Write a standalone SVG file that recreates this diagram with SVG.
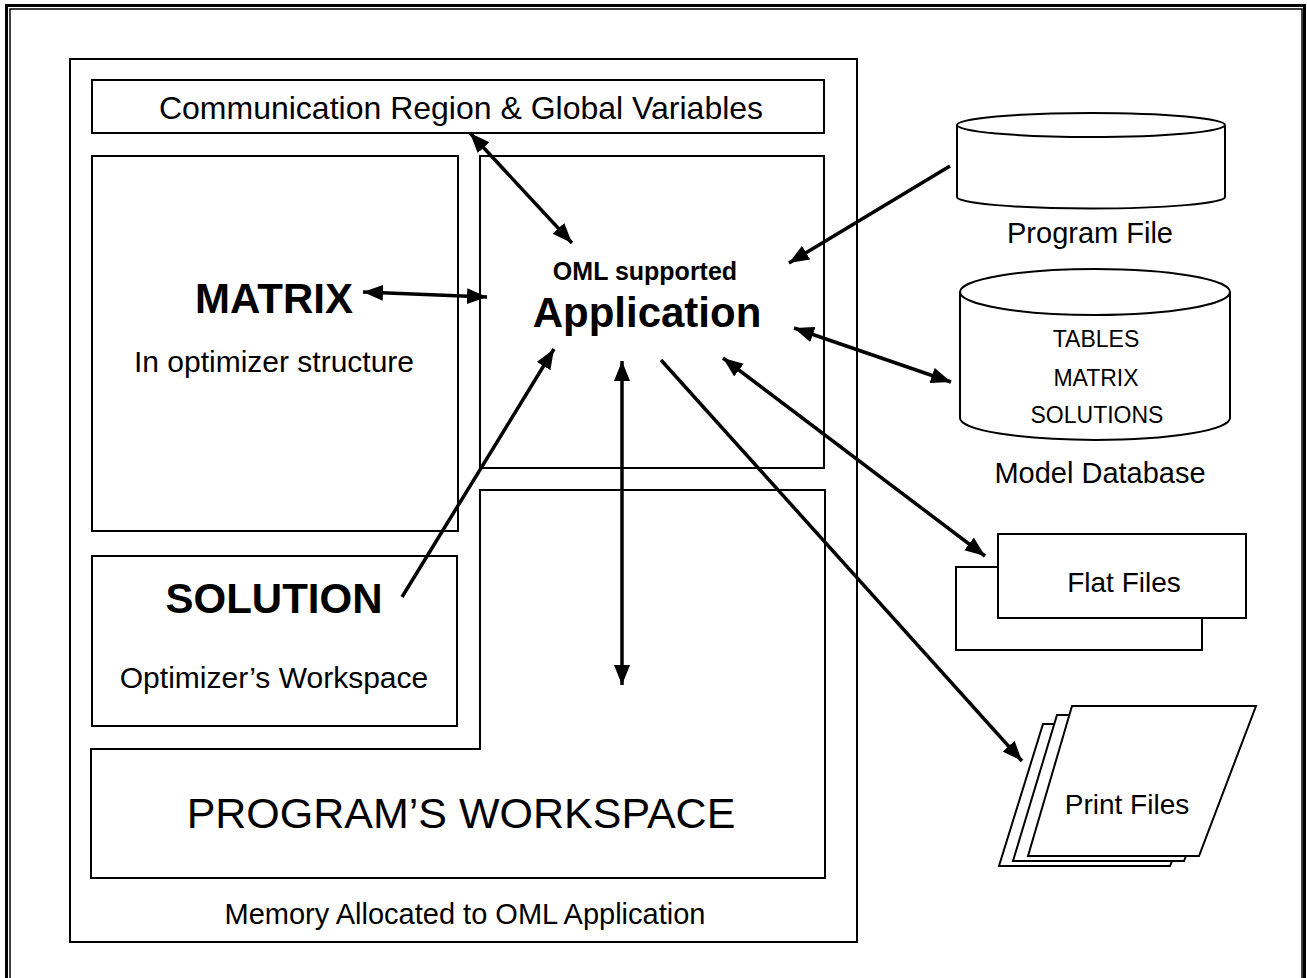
<svg xmlns="http://www.w3.org/2000/svg" width="1307" height="978" viewBox="0 0 1307 978">
<style>
.box{fill:none;stroke:#000;stroke-width:2}
.shape{fill:#fff;stroke:#000;stroke-width:2}
.t{font-family:"Liberation Sans",Arial,sans-serif;fill:#000;text-anchor:middle}
.b{font-weight:bold}
.conn{stroke:#000;stroke-width:3.5;fill:none}
</style>
<defs>
<marker id="ah" viewBox="0 0 20 16" refX="20" refY="8" markerWidth="20" markerHeight="16" markerUnits="userSpaceOnUse" orient="auto-start-reverse">
<path d="M0,0 L20,8 L0,16 Z" fill="#000"/>
</marker>
</defs>
<rect x="0" y="0" width="1307" height="978" fill="#fff"/>
<g id="frame">
<rect x="6.5" y="5.5" width="1298" height="985" fill="none" stroke="#000" stroke-width="3"/>
<rect x="10" y="9" width="1292" height="985" fill="none" stroke="#000" stroke-width="1.5"/>
</g>
<g id="memory">
<rect class="box" x="70" y="59" width="787" height="883"/>
<text class="t" x="465" y="924" font-size="29">Memory Allocated to OML Application</text>
</g>
<g id="comm">
<rect class="box" x="92" y="80" width="732" height="53"/>
<text class="t" x="461" y="119" font-size="32">Communication Region &amp; Global Variables</text>
</g>
<g id="matrix">
<rect class="box" x="92" y="156" width="366" height="375"/>
<text class="t b" x="274" y="313" font-size="42">MATRIX</text>
<text class="t" x="274" y="372" font-size="30">In optimizer structure</text>
</g>
<g id="application">
<rect class="box" x="480" y="156" width="344" height="312"/>
<text class="t b" x="645" y="280" font-size="25">OML supported</text>
<text class="t b" x="647" y="327" font-size="42">Application</text>
</g>
<g id="workspace">
<path class="box" d="M480,490 H825 V878 H91 V749 H480 Z"/>
<text class="t" x="461" y="828" font-size="43">PROGRAM’S WORKSPACE</text>
</g>
<g id="solution">
<rect class="box" x="92" y="556" width="365" height="170"/>
<text class="t b" x="274" y="613" font-size="42">SOLUTION</text>
<text class="t" x="274" y="688" font-size="30">Optimizer’s Workspace</text>
</g>
<g id="programfile">
<path class="shape" d="M957,125 V197 A134,11.5 0 0 0 1225,197 V125"/>
<ellipse class="shape" cx="1091" cy="125" rx="134" ry="12"/>
<text class="t" x="1090" y="243" font-size="29">Program File</text>
</g>
<g id="modeldb">
<path class="shape" d="M960,292 V418 A135,22 0 0 0 1230,418 V292"/>
<ellipse class="shape" cx="1095" cy="292" rx="135" ry="23"/>
<text class="t" x="1096" y="347" font-size="23">TABLES</text>
<text class="t" x="1096" y="386" font-size="23">MATRIX</text>
<text class="t" x="1097" y="423" font-size="23">SOLUTIONS</text>
<text class="t" x="1100" y="483" font-size="29">Model Database</text>
</g>
<g id="flatfiles">
<rect class="shape" x="956" y="567" width="246" height="83"/>
<rect class="shape" x="998" y="534" width="248" height="84"/>
<text class="t" x="1124" y="592" font-size="28">Flat Files</text>
</g>
<g id="printfiles">
<polygon class="shape" points="1043,724 1227,724 1170,866 999,866"/>
<polygon class="shape" points="1057,715 1241,715 1184,861 1013,861"/>
<polygon class="shape" points="1072,706 1256,706 1199,856 1028,856"/>
<text class="t" x="1127" y="814" font-size="28">Print Files</text>
</g>
<g id="connectors">
<line class="conn" x1="470" y1="133" x2="572" y2="243" marker-start="url(#ah)" marker-end="url(#ah)"/>
<line class="conn" x1="363" y1="292" x2="487" y2="297" marker-start="url(#ah)" marker-end="url(#ah)"/>
<line class="conn" x1="402" y1="597" x2="554" y2="349" marker-end="url(#ah)"/>
<line class="conn" x1="622" y1="361" x2="622" y2="685" marker-start="url(#ah)" marker-end="url(#ah)"/>
<line class="conn" x1="661" y1="360" x2="1022" y2="761" marker-end="url(#ah)"/>
<line class="conn" x1="723" y1="358" x2="985" y2="556" marker-start="url(#ah)" marker-end="url(#ah)"/>
<line class="conn" x1="794" y1="328" x2="951" y2="382" marker-start="url(#ah)" marker-end="url(#ah)"/>
<line class="conn" x1="950" y1="166" x2="789" y2="263" marker-end="url(#ah)"/>
</g>
</svg>
